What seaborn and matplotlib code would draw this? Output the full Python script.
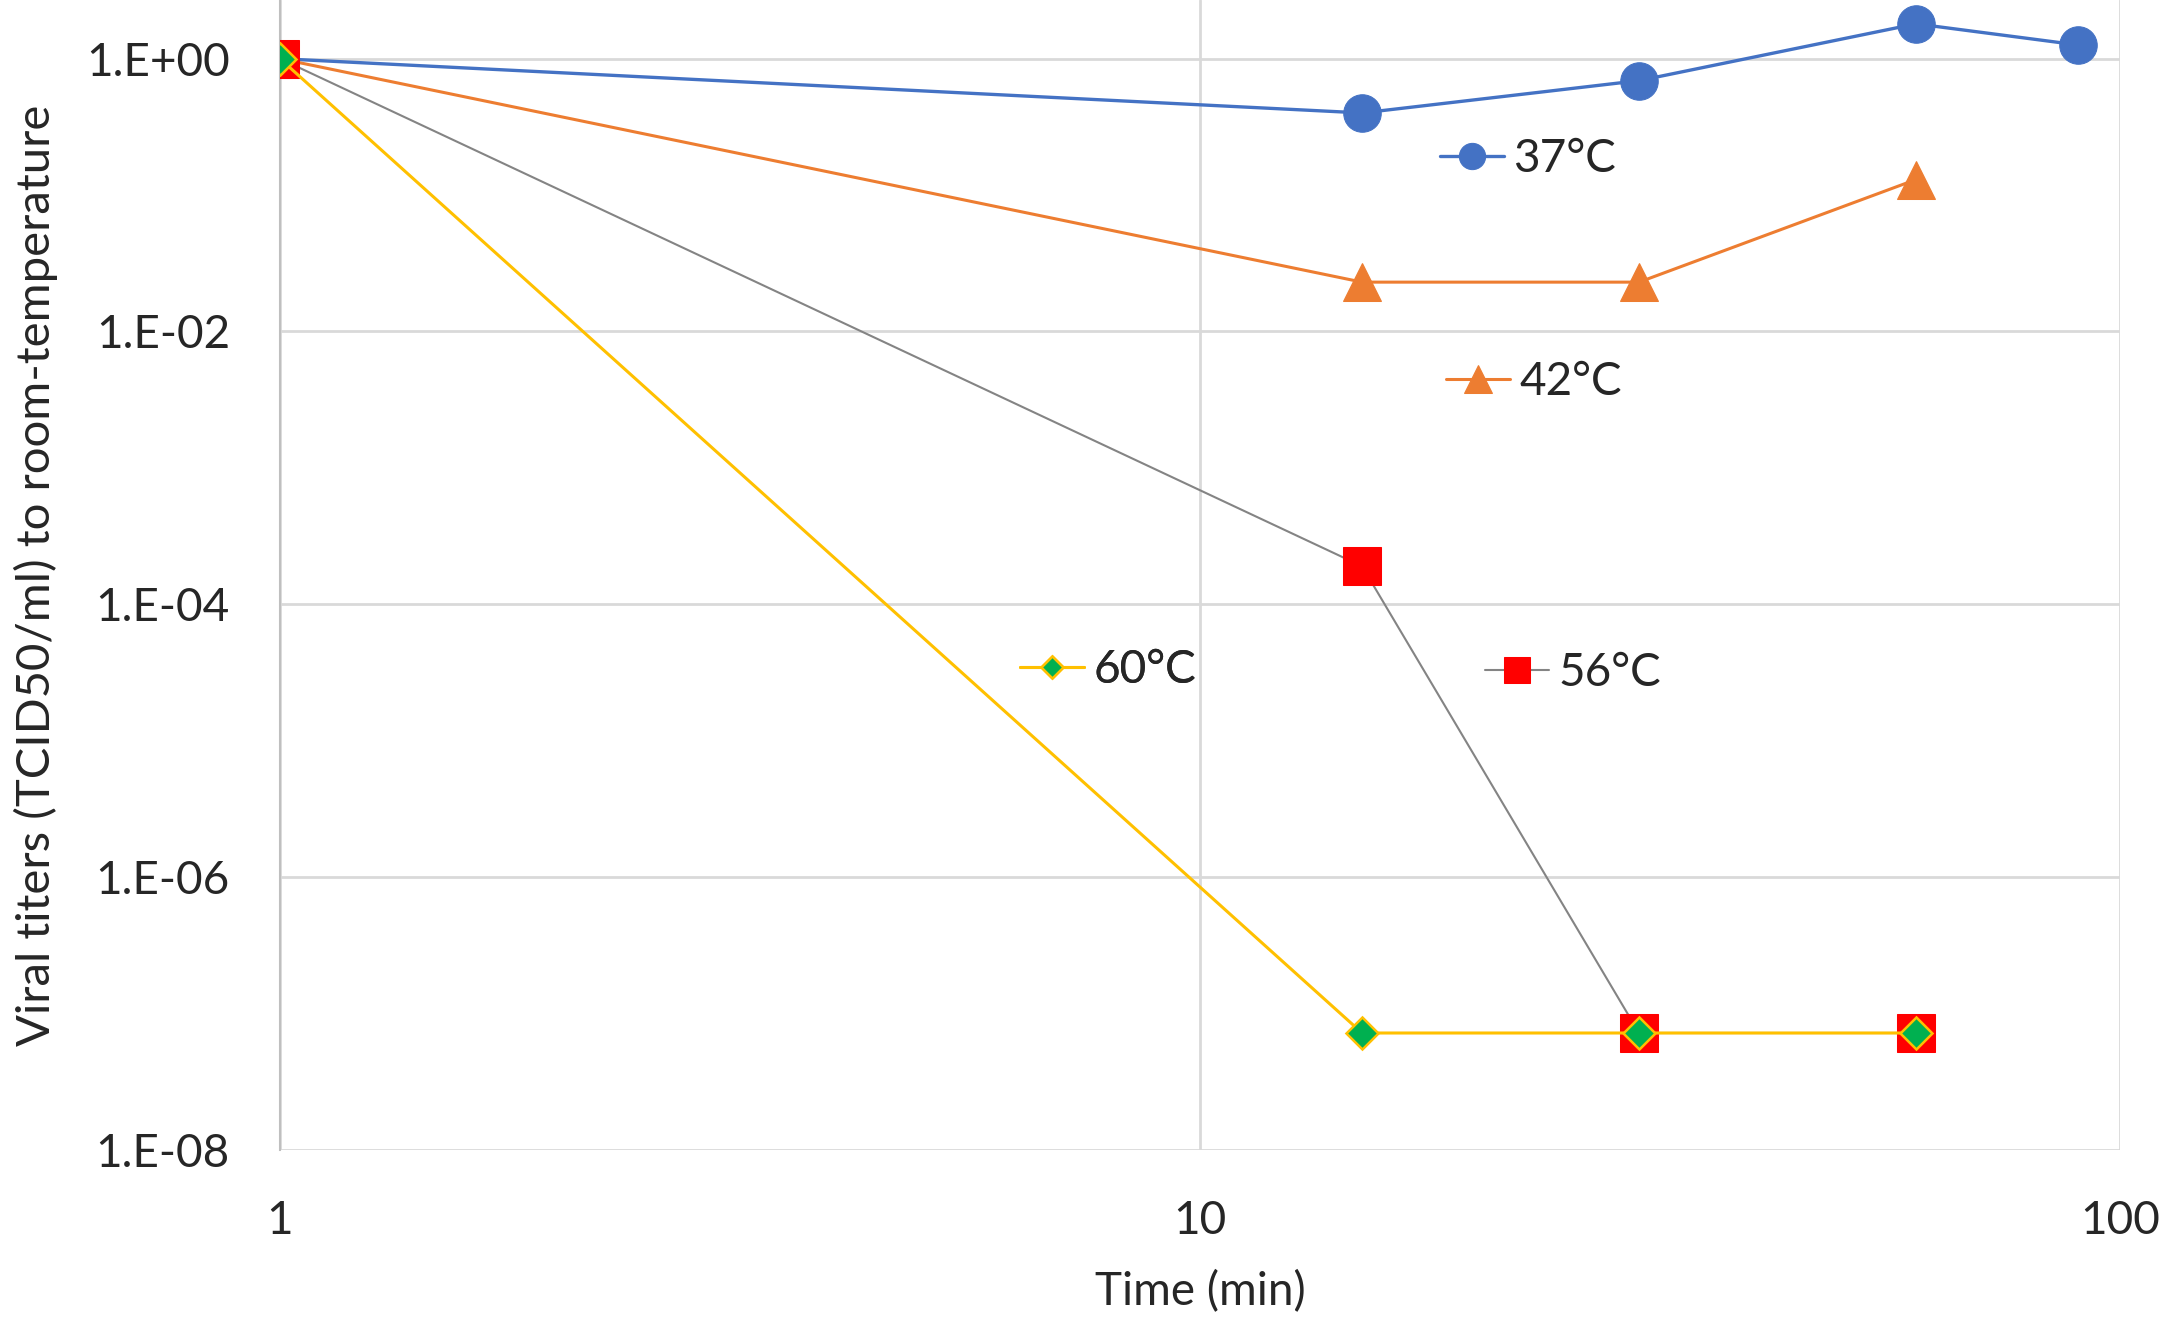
import matplotlib
matplotlib.use("Agg")
import matplotlib.pyplot as plt
import matplotlib.ticker as mticker
import seaborn as sns

# time points (min) and titers relative to room temperature
time_37 = [1, 15, 30, 60, 90]
titer_37 = [1.0, 0.40, 0.69, 1.8, 1.26]

time_42 = [1, 15, 30, 60]
titer_42 = [1.0, 0.023, 0.023, 0.13]

time_56 = [1, 15, 30, 60]
titer_56 = [1.0, 1.9e-4, 7.2e-8, 7.2e-8]

time_60 = [1, 15, 30, 60]
titer_60 = [1.0, 7.2e-8, 7.2e-8, 7.2e-8]

labels = ["37°C", "42°C", "56°C", "60°C"]
xticks = [1, 10, 100]
xticklabels = ["1", "10", "100"]
yticks = [1e0, 1e-2, 1e-4, 1e-6, 1e-8]
yticklabels = ["1.E+00", "1.E-02", "1.E-04", "1.E-06", "1.E-08"]

sns.set_theme(style="white")
plt.rcParams["font.family"] = ["Lato", "DejaVu Sans"]

fig = plt.figure(figsize=(21.65, 13.18), dpi=100)
ax = fig.add_axes([0.1293, 0.1275, 0.850, 0.8725])

sns.lineplot(x=time_37, y=titer_37, ax=ax, color="#4472C4", lw=2.4,
             marker="o", markersize=27, markeredgecolor="#4472C4", zorder=3)
sns.lineplot(x=time_42, y=titer_42, ax=ax, color="#ED7D31", lw=2.2,
             marker="^", markersize=28, markeredgecolor="#ED7D31", zorder=3)
sns.lineplot(x=time_56, y=titer_56, ax=ax, color="#848484", lw=1.5,
             marker="s", markersize=27, markerfacecolor="#FF0000",
             markeredgecolor="#FF0000", zorder=4)
sns.lineplot(x=time_60, y=titer_60, ax=ax, color="#FFC000", lw=2.2,
             marker="D", markersize=16, markerfacecolor="#00B050",
             markeredgecolor="#FFC000", markeredgewidth=1.8, zorder=5)
lines = ax.get_lines()

ax.set_xscale("log")
ax.set_yscale("log")
ax.set_xlim(1, 100)
ax.set_ylim(1e-8, 10 ** 0.43)
ax.set_xticks(xticks)
ax.xaxis.set_major_formatter(mticker.FixedFormatter(xticklabels))
ax.xaxis.set_minor_locator(mticker.NullLocator())
ax.set_yticks(yticks)
ax.set_yticklabels(yticklabels)
ax.yaxis.set_minor_locator(mticker.NullLocator())
ax.tick_params(axis="both", length=0, labelsize=33)
ax.tick_params(axis="x", pad=36)
ax.tick_params(axis="y", pad=36)

ax.grid(True, color="#D9D9D9", lw=2)
for s in ["top", "right", "bottom"]:
    ax.spines[s].set_visible(False)
ax.spines["left"].set_color("#BFBFBF")
ax.spines["left"].set_linewidth(1.5)

ax.set_xlabel("Time (min)", fontsize=33, labelpad=20)
ax.set_ylabel("Viral titers (TCID50/ml) to room-temperature", fontsize=34, labelpad=20)

# series labels placed next to the curves
spots = {
    "37°C": (0.665, 0.879),
    "42°C": (0.668, 0.710),
    "56°C": (0.686, 0.489),
    "60°C": (0.471, 0.492),
}
for line, lab in zip(lines, labels):
    leg = ax.legend([line], [lab], loc="center left", bbox_to_anchor=spots[lab],
                    bbox_transform=fig.transFigure, fontsize=33,
                    frameon=False, borderpad=0, borderaxespad=0,
                    handlelength=1.4, handletextpad=0.2, markerscale=0.7)
    leg.set_zorder(6)
    ax.add_artist(leg)

fig.savefig("out.png", dpi=100)
